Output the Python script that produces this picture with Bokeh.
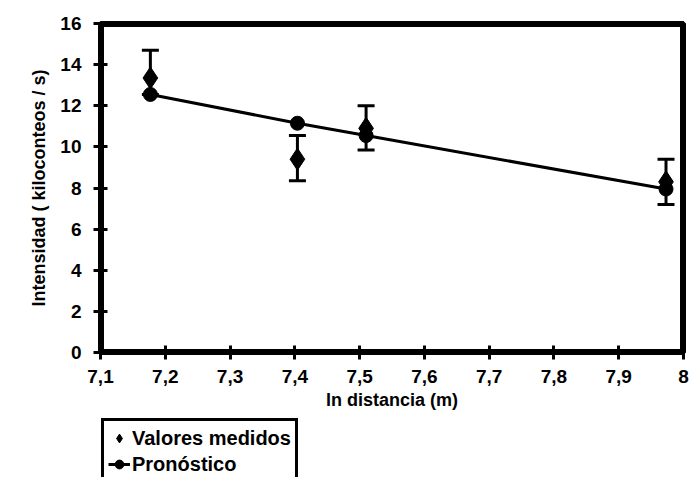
from bokeh.plotting import figure
from bokeh.layouts import column
from bokeh.models import (ColumnDataSource, Whisker, TeeHead, Legend, LegendItem, Range1d, FixedTicker,
                          CustomJSTickFormatter)
from bokeh.embed import file_html
from bokeh.resources import INLINE

# data
ln_dist = [7.177, 7.404, 7.51, 7.973]
medidos = [13.35, 9.4, 10.9, 8.3]
medidos_lo = [12.55, 8.35, 9.85, 7.2]
medidos_hi = [14.7, 10.55, 12.0, 9.4]
pronostico = [12.55, 11.15, 10.55, 7.95]
x_ticks = [7.1, 7.2, 7.3, 7.4, 7.5, 7.6, 7.7, 7.8, 7.9, 8.0]
y_ticks = [0, 2, 4, 6, 8, 10, 12, 14, 16]
legend_labels = ["Valores medidos", "Pronóstico"]

src = ColumnDataSource(dict(x=ln_dist, y=medidos, lo=medidos_lo, hi=medidos_hi, p=pronostico))

FONT = "Liberation Sans"

p = figure(width=694, height=417, output_backend="svg", toolbar_location=None,
           x_range=Range1d(x_ticks[0], x_ticks[-1]), y_range=Range1d(y_ticks[0], y_ticks[-1]),
           min_border_left=100, min_border_right=11, min_border_top=23, min_border_bottom=65)
p.grid.visible = False
p.outline_line_color = "black"
p.outline_line_width = 5
p.outline_line_alpha = 1.0

p.axis.axis_line_width = 5
p.axis.axis_line_color = "black"
p.axis.axis_line_alpha = 1.0
p.axis.major_tick_line_width = 3
p.axis.major_tick_line_color = "black"
p.axis.major_tick_in = 7
p.axis.major_tick_out = 7
p.axis.minor_tick_line_color = None
p.axis.major_label_text_font = FONT
p.axis.major_label_text_font_size = "19px"
p.axis.major_label_text_font_style = "bold"
p.axis.major_label_text_color = "black"
p.axis.axis_label_text_font = FONT
p.axis.axis_label_text_font_style = "bold"
p.axis.axis_label_text_font_size = "18px"
p.axis.axis_label_text_color = "black"

p.xaxis.ticker = FixedTicker(ticks=x_ticks)
p.yaxis.ticker = FixedTicker(ticks=y_ticks)
p.xaxis.formatter = CustomJSTickFormatter(code="return (Math.round(tick*10)/10).toString().replace('.', ',');")
p.xaxis.major_label_standoff = 10
p.yaxis.major_label_standoff = 12
p.xaxis.axis_label = "ln distancia (m)"
p.yaxis.axis_label = "Intensidad ( kiloconteos / s)"
p.xaxis.axis_label_standoff = 4
p.yaxis.axis_label_standoff = 8

# heavy frame box along the range limits
p.quad(left=[x_ticks[0]], right=[x_ticks[-1]], bottom=[y_ticks[0]], top=[y_ticks[-1]],
       fill_color=None, line_color="black", line_width=7)

w = Whisker(source=src, base="x", lower="lo", upper="hi", line_width=3, line_color="black",
            upper_head=TeeHead(size=17, line_width=3, line_color="black"),
            lower_head=TeeHead(size=17, line_width=3, line_color="black"))
p.add_layout(w)

line = p.line("x", "p", source=src, line_width=3, line_color="black")
circ = p.scatter("x", "p", source=src, marker="circle", size=14, fill_color="black", line_color="black")
dia = p.scatter("x", "y", source=src, marker="diamond", size=22, fill_color="black", line_color="black")

# legend panel below the chart (its glyphs reuse the data, which lies outside this panel's ranges)
pl = figure(width=694, height=60, output_backend="svg", toolbar_location=None,
            x_range=Range1d(0, 1), y_range=Range1d(0, 1), x_axis_type=None, y_axis_type=None,
            min_border_left=100, min_border_right=11, min_border_top=0, min_border_bottom=0)
pl.grid.visible = False
pl.outline_line_color = None
ldia = pl.scatter("x", "y", source=src, marker="diamond", fill_color="black", line_color="black")
lline = pl.line("x", "p", source=src, line_width=3, line_color="black")
lcirc = pl.scatter("x", "p", source=src, marker="circle", fill_color="black", line_color="black")

legend = Legend(items=[LegendItem(label=legend_labels[0], renderers=[ldia]),
                       LegendItem(label=legend_labels[1], renderers=[lline, lcirc])],
                location="top_left", orientation="vertical")
legend.border_line_color = "black"
legend.border_line_width = 3
legend.border_line_alpha = 1.0
legend.label_text_font = FONT
legend.label_text_font_size = "20px"
legend.label_text_font_style = "bold"
legend.label_text_color = "black"
legend.spacing = -3
legend.padding = 4
legend.margin = 1
legend.glyph_width = 22
legend.glyph_height = 26
legend.label_standoff = 2
legend.label_height = 23
pl.add_layout(legend, "center")

open("out.html", "w").write(file_html(column(p, pl, spacing=0), INLINE))
